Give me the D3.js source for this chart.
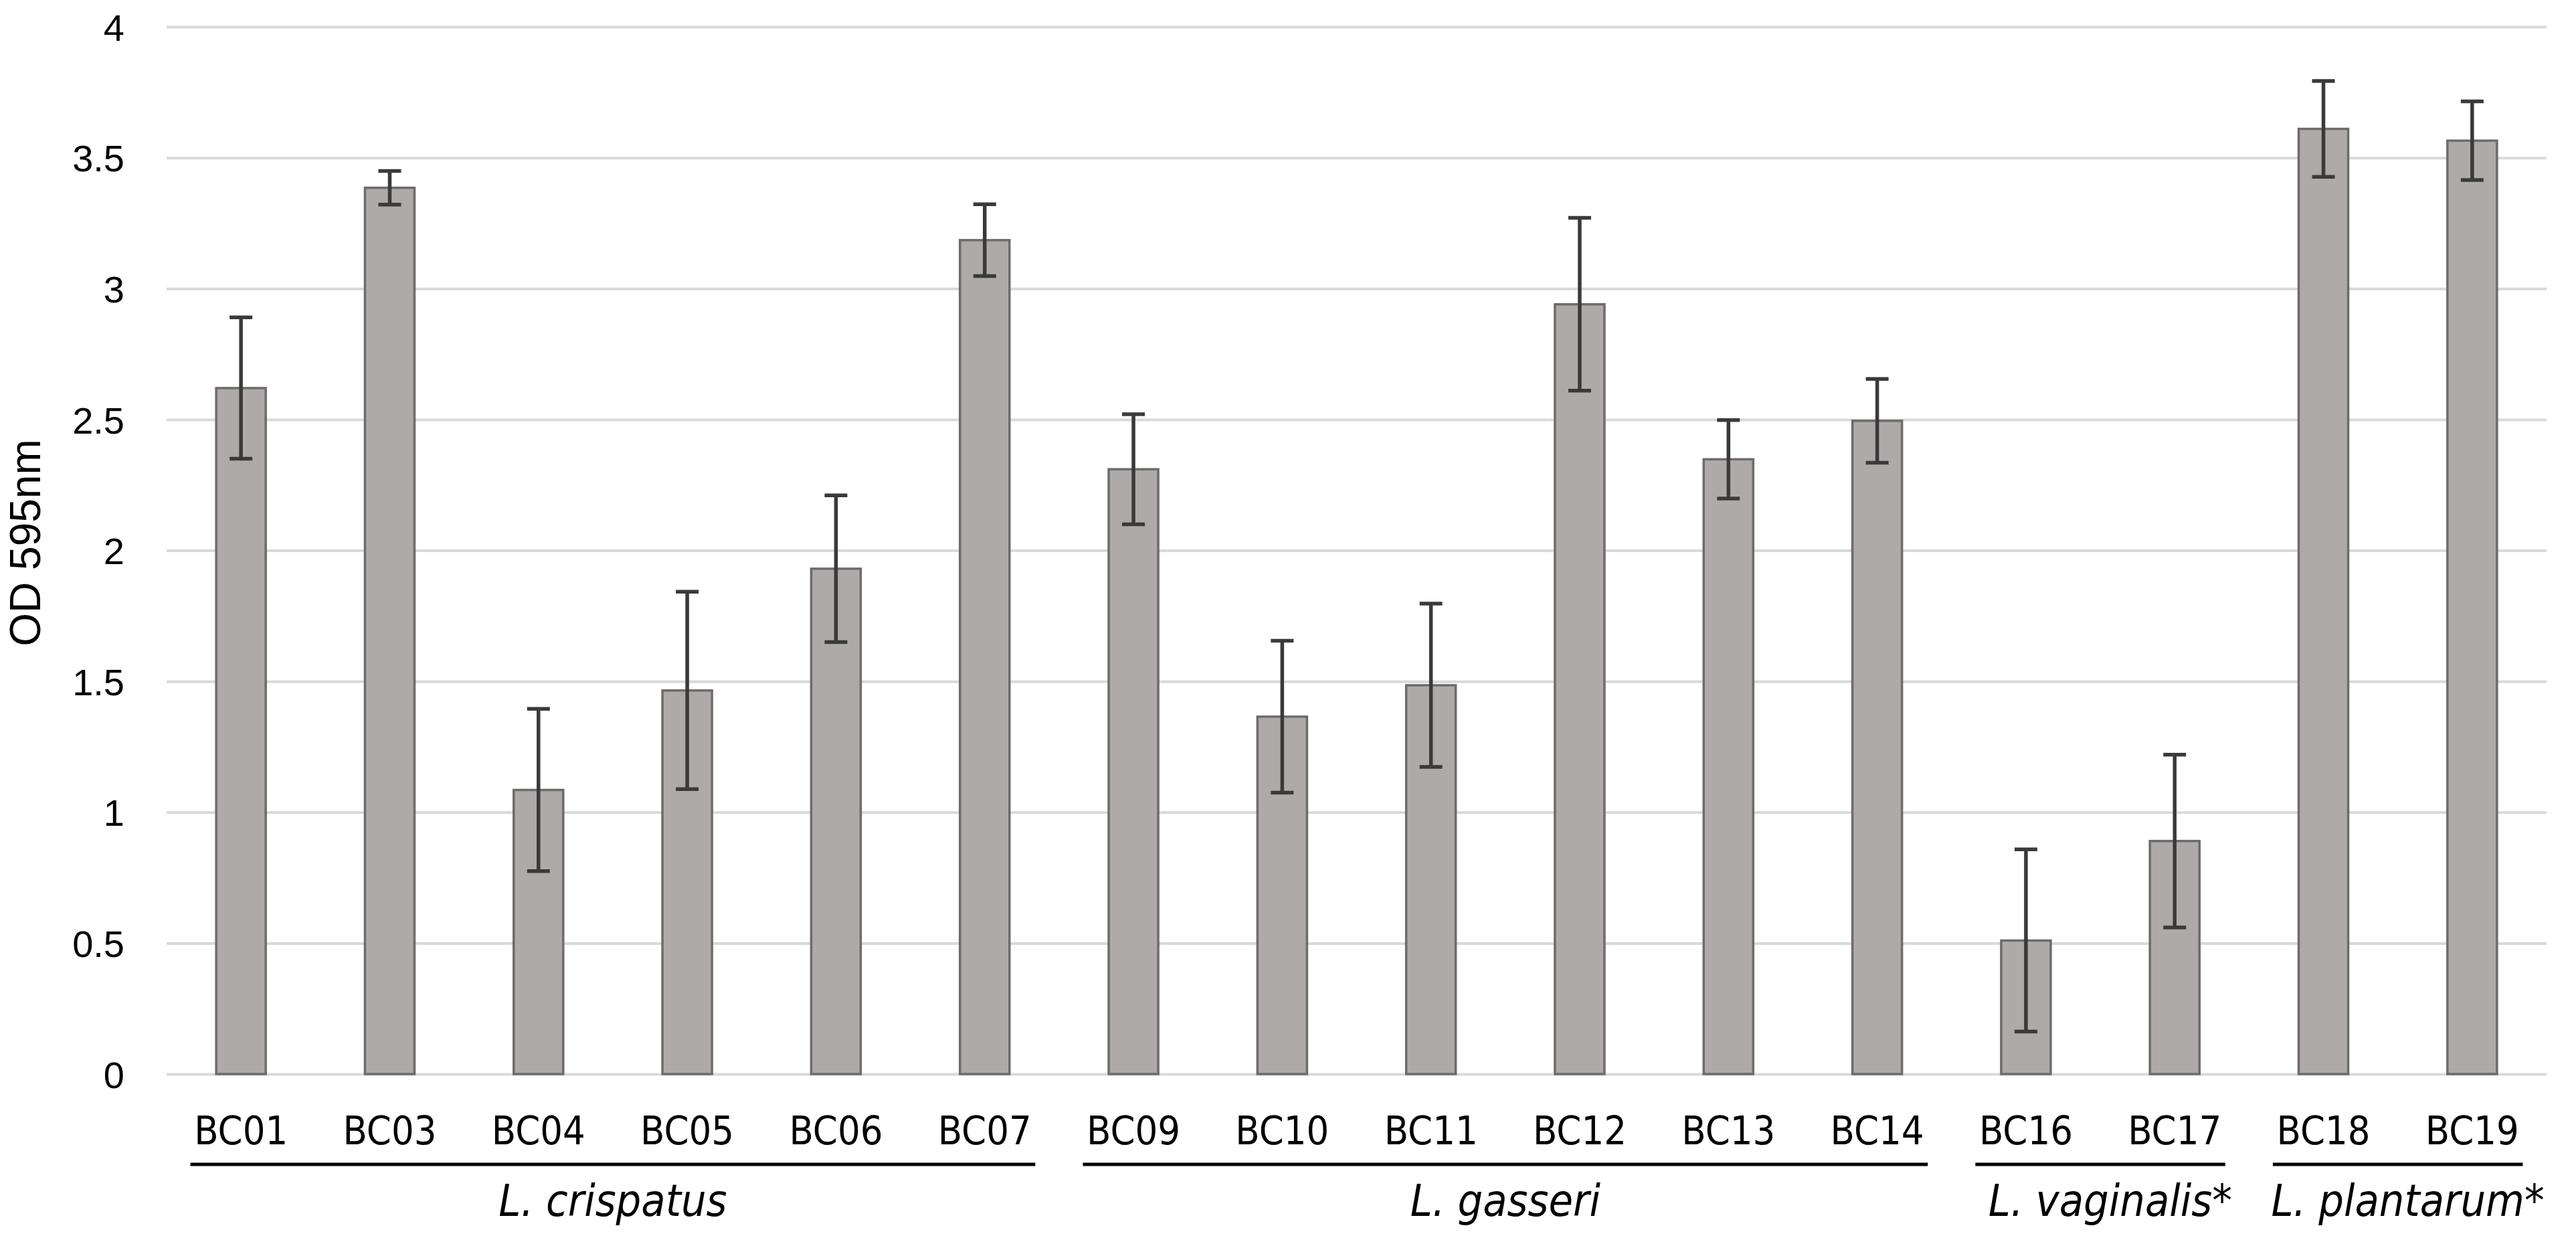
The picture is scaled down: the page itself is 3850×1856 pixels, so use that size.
<!DOCTYPE html>
<html>
<head>
<meta charset="utf-8">
<script src="https://cdn.jsdelivr.net/npm/d3@7"></script>
<style>
  body { margin: 0; background: #fff; }
  .tick text { fill: #000; }
</style>
</head>
<body>
<div id="chart"></div>
<script>
// strains and mean OD with SD
var strains = ['BC01','BC03','BC04','BC05','BC06','BC07','BC09','BC10','BC11','BC12','BC13','BC14','BC16','BC17','BC18','BC19'];
var od = [2.62, 3.385, 1.085, 1.465, 1.93, 3.185, 2.31, 1.365, 1.485, 2.94, 2.348, 2.495, 0.51, 0.89, 3.61, 3.565];
var sd = [0.27, 0.064, 0.31, 0.377, 0.28, 0.137, 0.21, 0.29, 0.312, 0.33, 0.15, 0.16, 0.348, 0.33, 0.183, 0.15];
var yTicks = [0, 0.5, 1, 1.5, 2, 2.5, 3, 3.5, 4];

// species groups (first and last strain of each)
var species = ['L. crispatus', 'L. gasseri', 'L. vaginalis', 'L. plantarum'];
var speciesMark = ['', '', '*', '*'];
var speciesFirst = ['BC01', 'BC09', 'BC16', 'BC18'];
var speciesLast = ['BC07', 'BC14', 'BC17', 'BC19'];

var W = 3850, H = 1856;
var plotLeft = 249, plotRight = 3806, plotTop = 40, plotBottom = 1605;
var narrow = '"Liberation Sans Narrow", "DejaVu Sans Condensed", "Liberation Sans", sans-serif';

var svg = d3.select('#chart').append('svg')
    .attr('width', W)
    .attr('height', H)
    .style('background', '#fff');

var x = d3.scaleBand()
    .domain(strains)
    .range([plotLeft, plotRight])
    .paddingInner(0.667)
    .paddingOuter(0.3335);

var y = d3.scaleLinear()
    .domain([0, 4])
    .range([plotBottom, plotTop]);

// grid + y labels
var yAxis = svg.append('g')
    .attr('transform', 'translate(' + plotLeft + ',0)')
    .call(d3.axisLeft(y)
        .tickValues(yTicks)
        .tickSize(-(plotRight - plotLeft))
        .tickPadding(63)
        .tickFormat(function(d) { return String(d); }));
yAxis.select('.domain').remove();
yAxis.selectAll('.tick line')
    .attr('stroke', '#d9d9d9')
    .attr('stroke-width', 4);
yAxis.selectAll('.tick text')
    .attr('font-family', '"Liberation Sans", Arial, sans-serif')
    .attr('font-size', 56)
    .attr('dy', '0.36em');

// bars
svg.append('g').selectAll('rect')
    .data(strains)
    .enter().append('rect')
      .attr('x', function(d) { return x(d); })
      .attr('y', function(d, i) { return y(od[i]); })
      .attr('width', x.bandwidth())
      .attr('height', function(d, i) { return y(0) - y(od[i]); })
      .attr('fill', '#aeaaaa')
      .attr('stroke', '#6e6b6b')
      .attr('stroke-width', 3.5);

// error bars
var cap = 17;
var err = svg.append('g')
    .attr('stroke', '#3a3a3a')
    .attr('stroke-width', 5.5)
    .attr('fill', 'none');
err.selectAll('path')
    .data(strains)
    .enter().append('path')
      .attr('d', function(d, i) {
        var cx = x(d) + x.bandwidth() / 2;
        var y1 = y(od[i] + sd[i]), y2 = y(od[i] - sd[i]);
        return 'M' + (cx - cap) + ',' + y1 + 'H' + (cx + cap) +
               'M' + cx + ',' + y1 + 'V' + y2 +
               'M' + (cx - cap) + ',' + y2 + 'H' + (cx + cap);
      });

// strain labels
var xAxis = svg.append('g')
    .attr('transform', 'translate(0,' + plotBottom + ')')
    .call(d3.axisBottom(x).tickSize(0).tickPadding(63));
xAxis.select('.domain').remove();
xAxis.selectAll('.tick text')
    .attr('font-family', narrow)
    .attr('font-size', 59);

// species brackets and names
var pad = 0.34 * x.step();
var centre = function(s) { return x(s) + x.bandwidth() / 2; };
var grp = svg.append('g');
species.forEach(function(name, i) {
  var x0 = centre(speciesFirst[i]), x1 = centre(speciesLast[i]);
  grp.append('line')
      .attr('x1', x0 - pad).attr('x2', x1 + pad)
      .attr('y1', 1740).attr('y2', 1740)
      .attr('stroke', '#000')
      .attr('stroke-width', 5);
  var t = grp.append('text')
      .attr('y', 1817)
      .attr('font-family', narrow)
      .attr('font-style', 'italic')
      .attr('font-size', 66)
      .text(name);
  var w = t.node().getComputedTextLength();
  t.attr('x', (x0 + x1) / 2 - w / 2);
  if (speciesMark[i]) t.append('tspan').text(speciesMark[i]);
});

// y title
svg.append('text')
    .attr('transform', 'translate(60,811) rotate(-90)')
    .attr('text-anchor', 'middle')
    .attr('font-family', '"Liberation Sans", Arial, sans-serif')
    .attr('font-size', 64)
    .text('OD 595nm');
</script>
</body>
</html>
